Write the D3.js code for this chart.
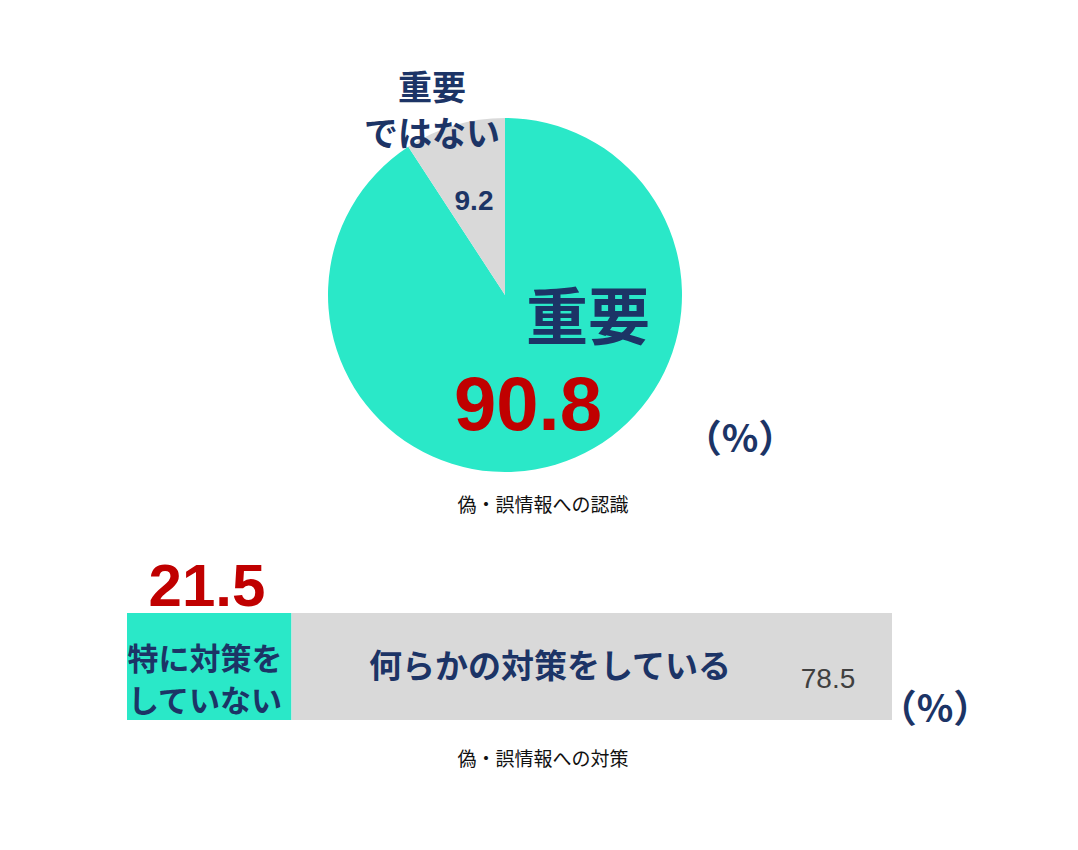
<!DOCTYPE html>
<html><head><meta charset="utf-8">
<script src="https://cdn.jsdelivr.net/npm/d3@7"></script>
<style>body{margin:0;background:#fff}text{font-family:"Noto Sans CJK JP","Noto Sans",sans-serif}text.num{font-family:"Liberation Sans",Arial,sans-serif}</style>
</head><body>
<svg width="1078" height="850"></svg>
<script>
var pieLabels = ["重要", "重要ではない"],
	pieValues = [90.8, 9.2],
	barLabels = ["特に対策をしていない", "何らかの対策をしている"],
	barValues = [21.5, 78.5];

var teal = "#2ae8c8", gray = "#d9d9d9", navy = "#1c3466", red = "#c00000";

var svg = d3.select("svg");

// pie
var pie = d3.pie().sort(null).value(function(d) { return d; });
var arc = d3.arc().innerRadius(0).outerRadius(177);
var pg = svg.append("g").attr("transform", "translate(505,295)");
pg.selectAll("path")
	.data(pie(pieValues))
	.enter().append("path")
	.attr("d", arc)
	.attr("fill", function(d, i) { return i == 0 ? teal : gray; });

function txt(x, y, s, size, color, weight, anchor, cls) {
	return svg.append("text").attr("x", x).attr("y", y).attr("font-size", size)
		.attr("class", cls || null)
		.attr("fill", color).attr("font-weight", weight || "bold")
		.attr("text-anchor", anchor || "middle").text(s);
}

txt(432, 100, "重要", 34, navy);
txt(432, 146, "ではない", 34, navy);
txt(474, 210, pieValues[1].toFixed(1), 28, navy, "bold", "middle", "num");
txt(588, 340, pieLabels[0], 62, navy);
txt(528, 430, pieValues[0].toFixed(1), 76, red, "bold", "middle", "num");
txt(740, 452, "（%）", 38, navy);
txt(543, 512, "偽・誤情報への認識", 19, "#111", "normal");

// bar
var x = d3.scaleLinear().domain([0, 100]).range([127, 892]);
var stack = [];
var acc = 0;
barValues.forEach(function(v) { stack.push([acc, acc + v]); acc += v; });
svg.selectAll("rect.bar")
	.data(stack)
	.enter().append("rect")
	.attr("class", "bar")
	.attr("x", function(d) { return x(d[0]); })
	.attr("width", function(d) { return x(d[1]) - x(d[0]); })
	.attr("y", 613).attr("height", 107)
	.attr("fill", function(d, i) { return i == 0 ? teal : gray; });

txt(207, 606, barValues[0].toFixed(1), 60, red, "bold", "middle", "num");
txt(205, 670, "特に対策を", 31, navy);
txt(205, 712, "していない", 31, navy);
txt(550, 678, barLabels[1], 33, navy);
txt(828, 688, barValues[1].toFixed(1), 28, "#404040", "normal", "middle", "num");
txt(935, 722, "（%）", 38, navy);
txt(543, 766, "偽・誤情報への対策", 19, "#111", "normal");
</script>
</body></html>
